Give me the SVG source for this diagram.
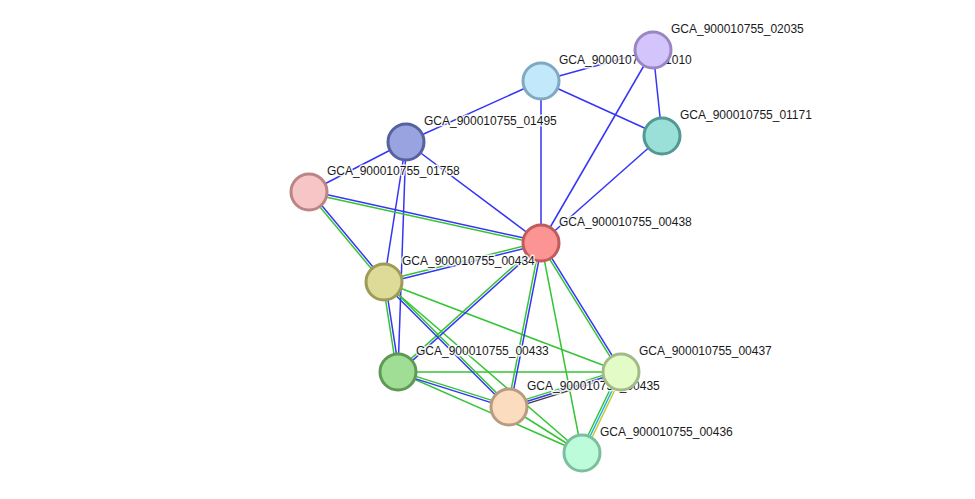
<svg xmlns="http://www.w3.org/2000/svg" width="975" height="499" viewBox="0 0 975 499">
<style>
.e{stroke-width:1.5;fill:none}
.b{stroke:#3535f5}
.g{stroke:#35c435}
.c{stroke:#1eb4e6}
.y{stroke:#c8c830}
.k{stroke:#3f3f3f}
.n circle{stroke-width:3}
.n text{font-family:"Liberation Sans",Arial,sans-serif;font-size:12px;fill:#1a1a1a;stroke:#ffffff;stroke-width:3;stroke-opacity:0.85;paint-order:stroke;stroke-linejoin:round}
</style>
<rect width="975" height="499" fill="#ffffff"/>
<g id="connectors">
<line class="e b" x1="541" y1="81" x2="653" y2="50"/>
<line class="e b" x1="541" y1="81" x2="662" y2="136"/>
<line class="e b" x1="541" y1="81" x2="406" y2="142"/>
<line class="e b" x1="541" y1="81" x2="541" y2="243"/>
<line class="e b" x1="653" y1="50" x2="662" y2="136"/>
<line class="e b" x1="653" y1="50" x2="541" y2="243"/>
<line class="e b" x1="662" y1="136" x2="541" y2="243"/>
<line class="e b" x1="406" y1="142" x2="309" y2="192"/>
<line class="e b" x1="406" y1="142" x2="541" y2="243"/>
<line class="e b" x1="406" y1="142" x2="384" y2="282"/>
<line class="e b" x1="406" y1="142" x2="398" y2="372"/>
<line class="e g" x1="541" y1="243" x2="582" y2="453"/>
<line class="e g" x1="384" y1="282" x2="621" y2="372"/>
<line class="e g" x1="384" y1="282" x2="582" y2="453"/>
<line class="e g" x1="398" y1="372" x2="621" y2="372"/>
<line class="e g" x1="398" y1="372" x2="582" y2="453"/>
<line class="e g" x1="509" y1="407" x2="582" y2="453"/>
<line class="e b" x1="309.3" y1="190.8" x2="541.3" y2="241.8"/>
<line class="e g" x1="308.7" y1="193.2" x2="540.7" y2="244.2"/>
<line class="e b" x1="309.9" y1="191.2" x2="384.9" y2="281.2"/>
<line class="e g" x1="308.1" y1="192.8" x2="383.1" y2="282.8"/>
<line class="e g" x1="383.7" y1="280.8" x2="540.7" y2="241.8"/>
<line class="e b" x1="384.3" y1="283.2" x2="541.3" y2="244.2"/>
<line class="e g" x1="540.2" y1="242.1" x2="397.2" y2="371.1"/>
<line class="e b" x1="541.8" y1="243.9" x2="398.8" y2="372.9"/>
<line class="e g" x1="539.8" y1="242.8" x2="507.8" y2="406.8"/>
<line class="e b" x1="542.2" y1="243.2" x2="510.2" y2="407.2"/>
<line class="e g" x1="540.0" y1="243.6" x2="620.0" y2="372.6"/>
<line class="e b" x1="542.0" y1="242.4" x2="622.0" y2="371.4"/>
<line class="e g" x1="382.8" y1="282.2" x2="396.8" y2="372.2"/>
<line class="e b" x1="385.2" y1="281.8" x2="399.2" y2="371.8"/>
<line class="e b" x1="383.2" y1="282.8" x2="508.2" y2="407.8"/>
<line class="e g" x1="384.8" y1="281.2" x2="509.8" y2="406.2"/>
<line class="e g" x1="398.4" y1="370.9" x2="509.4" y2="405.9"/>
<line class="e b" x1="397.6" y1="373.1" x2="508.6" y2="408.1"/>
<line class="e g" x1="508.3" y1="404.9" x2="620.3" y2="369.9"/>
<line class="e b" x1="509" y1="407" x2="621" y2="372"/>
<line class="e k" x1="509.7" y1="409.1" x2="621.7" y2="374.1"/>
<line class="e g" x1="619.0" y1="371.0" x2="580.0" y2="452.0"/>
<line class="e c" x1="621" y1="372" x2="582" y2="453"/>
<line class="e y" x1="623.0" y1="373.0" x2="584.0" y2="454.0"/>
</g>
<g id="n01010" class="n"><text x="559" y="63.5">GCA_900010755_01010</text><circle cx="541" cy="81" r="18" fill="#c2e8fc" stroke="#80a8c0"/></g>
<g id="n02035" class="n"><text x="671" y="32.5">GCA_900010755_02035</text><circle cx="653" cy="50" r="18" fill="#d3c5fb" stroke="#9a86c4"/></g>
<g id="n01171" class="n"><text x="680" y="118.5">GCA_900010755_01171</text><circle cx="662" cy="136" r="18" fill="#9be0d8" stroke="#509a93"/></g>
<g id="n01495" class="n"><text x="424" y="124.5">GCA_900010755_01495</text><circle cx="406" cy="142" r="18" fill="#98a3e0" stroke="#5662a0"/></g>
<g id="n01758" class="n"><text x="327" y="174.5">GCA_900010755_01758</text><circle cx="309" cy="192" r="18" fill="#f6c6c6" stroke="#bb8585"/></g>
<g id="n00438" class="n"><text x="559" y="225.5">GCA_900010755_00438</text><circle cx="541" cy="243" r="18" fill="#fc9494" stroke="#c05c5c"/></g>
<g id="n00434" class="n"><text x="402" y="264.5">GCA_900010755_00434</text><circle cx="384" cy="282" r="18" fill="#dedb98" stroke="#9e9b58"/></g>
<g id="n00433" class="n"><text x="416" y="354.5">GCA_900010755_00433</text><circle cx="398" cy="372" r="18" fill="#9fde94" stroke="#5e9a56"/></g>
<g id="n00435" class="n"><text x="527" y="389.5">GCA_900010755_00435</text><circle cx="509" cy="407" r="18" fill="#fcdcbf" stroke="#b89c80"/></g>
<g id="n00437" class="n"><text x="639" y="354.5">GCA_900010755_00437</text><circle cx="621" cy="372" r="18" fill="#e3fcc7" stroke="#a3ba87"/></g>
<g id="n00436" class="n"><text x="600" y="435.5">GCA_900010755_00436</text><circle cx="582" cy="453" r="18" fill="#bdfcdb" stroke="#7bbf9c"/></g>
</svg>
